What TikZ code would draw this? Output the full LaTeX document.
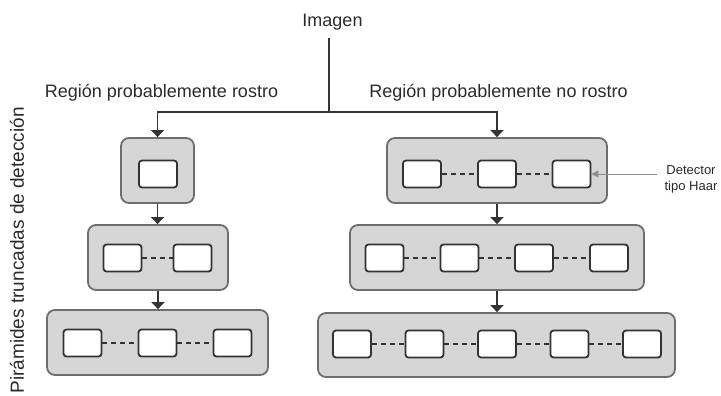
\documentclass[tikz,border=0pt]{standalone}
\usepackage{fontspec}
\setmainfont{Liberation Sans}
\usetikzlibrary{arrows.meta}
\definecolor{boxfill}{HTML}{D6D6D6}
\definecolor{boxline}{HTML}{6E6E6E}
\definecolor{darkline}{HTML}{333333}
\definecolor{haargray}{HTML}{8C8C8C}
\definecolor{textgray}{HTML}{2A2A2A}
\begin{document}
\begin{tikzpicture}[x=1pt,y=-1pt,
  stage/.style={draw=boxline, fill=boxfill, line width=1.8pt, rounded corners=8pt,
                minimum height=65pt, inner sep=0pt},
  det/.style={draw=darkline, fill=white, line width=1.8pt, rounded corners=3pt,
              minimum width=38pt, minimum height=27pt, inner sep=0pt},
  link/.style={draw=darkline, line width=2pt, dash pattern=on 5pt off 4pt},
  trunk/.style={draw=darkline, line width=1.8pt},
  flow/.style={draw=darkline, line width=1.8pt, -{Triangle[width=13pt,length=7pt]}},
  haarflow/.style={draw=haargray, line width=1pt, -{Triangle[width=7pt,length=7pt]}},
  lbl/.style={font=\fontsize{18}{21}\selectfont, text=textgray, inner sep=0pt, anchor=base}]
\useasboundingbox (0,0) rectangle (721,396);

% titles
\node[lbl] (img) at (332.5,27) {Imagen};
\node[lbl] (lbla) at (161.5,98) {Región probablemente rostro};
\node[lbl] (lblb) at (498.5,98) {Región probablemente no rostro};
\node[rotate=90, anchor=east, inner sep=0pt, text=textgray, font=\fontsize{19}{23}\selectfont] (side) at (17,107) {Pirámides truncadas de detección};

% left pyramid
\node[stage, minimum width=73pt] (L1) at (157.5,170.5) {};
\node[stage, minimum width=140pt] (L2) at (158,257.5) {};
\node[stage, minimum width=221pt] (L3) at (157.5,342.5) {};
\node[det] (L1a) at (158,174) {};
\node[det] (L2a) at (122.5,258) {};
\node[det] (L2b) at (192.5,258) {};
\node[det] (L3a) at (82.5,343) {};
\node[det] (L3b) at (157.5,343) {};
\node[det] (L3c) at (232.5,343) {};

% right pyramid
\node[stage, minimum width=220pt] (R1) at (497,170.5) {};
\node[stage, minimum width=294pt] (R2) at (497,257.5) {};
\node[stage, minimum width=357pt, minimum height=64pt] (R3) at (496.5,345) {};
\node[det] (R1a) at (422,174) {};
\node[det] (R1b) at (497,174) {};
\node[det] (R1c) at (571.5,174) {};
\node[det] (R2a) at (384.5,258) {};
\node[det] (R2b) at (459.5,258) {};
\node[det] (R2c) at (534,258) {};
\node[det] (R2d) at (609,258) {};
\node[det] (R3a) at (352,344) {};
\node[det] (R3b) at (424.5,344) {};
\node[det] (R3c) at (497,344) {};
\node[det] (R3d) at (569.5,344) {};
\node[det] (R3e) at (642,344) {};

% dashed links
\draw[link] (L2a) -- (L2b);
\draw[link] (L3a) -- (L3b);
\draw[link] (L3b) -- (L3c);
\draw[link] (R1a) -- (R1b);
\draw[link] (R1b) -- (R1c);
\draw[link] (R2a) -- (R2b);
\draw[link] (R2b) -- (R2c);
\draw[link] (R2c) -- (R2d);
\draw[link] (R3a) -- (R3b);
\draw[link] (R3b) -- (R3c);
\draw[link] (R3c) -- (R3d);
\draw[link] (R3d) -- (R3e);

% tree connectors
\coordinate (top) at (329,38);
\coordinate (jn) at (329,112);
\draw[trunk] (top) -- (jn);
\draw[flow] (jn) -| (L1.north);
\draw[flow] (jn) -| (R1.north);
\draw[flow] (L1.south) -- (L1.south |- L2.north);
\draw[flow] (L2.south) -- (L2.south |- L3.north);
\draw[flow] (R1.south) -- (R1.south |- R2.north);
\draw[flow] (R2.south) -- (R2.south |- R3.north);

% Haar annotation
\node[align=center, inner sep=0pt, text=textgray, font=\fontsize{13}{16}\selectfont] (haar) at (691,179) {Detector\\tipo Haar};
\draw[haarflow, shorten <=7pt] (haar.west |- R1c.east) -- (R1c.east);
\end{tikzpicture}
\end{document}
